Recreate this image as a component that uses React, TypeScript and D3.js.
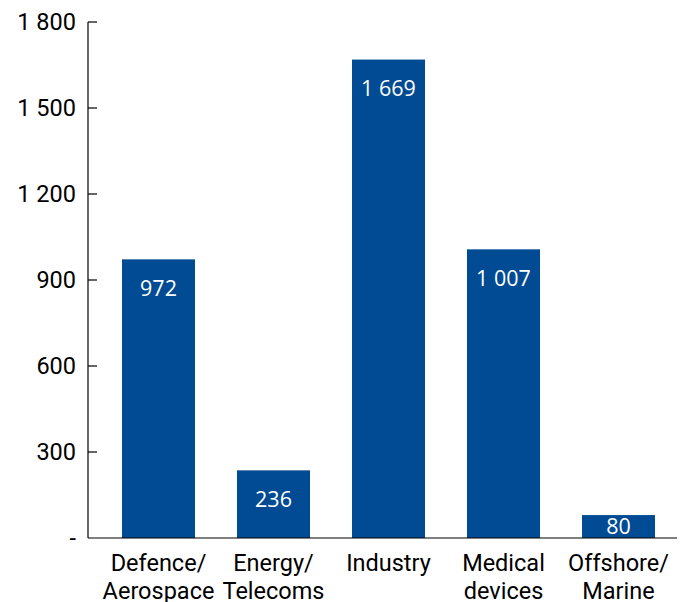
import React from "react";
import * as d3 from "d3";

const categories: string[][] = [
  ["Defence/", "Aerospace"],
  ["Energy/", "Telecoms"],
  ["Industry"],
  ["Medical", "devices"],
  ["Offshore/", "Marine"],
];
const values: number[] = [972, 236, 1669, 1007, 80];
const yTicks: number[] = [0, 300, 600, 900, 1200, 1500, 1800];

const W = 686;
const H = 602;
const BLUE = "#004B93";

const fmt = (v: number) => {
  if (v === 0) return "-";
  const s = String(v);
  return s.replace(/\B(?=(\d{3})+(?!\d))/g, "\u00a0");
};

export default function App() {
  const x = d3
    .scaleBand<number>()
    .domain(values.map((_, i) => i))
    .range([101, 676])
    .paddingInner(0.365)
    .paddingOuter(0.1825);
  const y = d3.scaleLinear().domain([0, 1800]).range([538, 22]);
  const axisX = 88;

  return (
    <svg
      width={W}
      height={H}
      style={{ position: "fixed", left: 0, top: 0, background: "#fff" }}
    >
      {values.map((v, i) => {
        const x0 = x(i)!;
        const top = y(v);
        const h = y(0) - top;
        const ly = Math.min(top + 29, top + h / 2);
        return (
          <g key={i}>
            <rect x={x0} y={top} width={x.bandwidth()} height={h} fill={BLUE} />
            <text
              x={x0 + x.bandwidth() / 2}
              y={ly}
              dy="0.36em"
              textAnchor="middle"
              fill="#fff"
              fontFamily="'Open Sans', sans-serif"
              fontSize={21.5}
            >
              {fmt(v)}
            </text>
          </g>
        );
      })}
      <line x1={axisX} x2={axisX} y1={y(1800)} y2={y(0)} stroke="#000" strokeWidth={1.2} />
      <line x1={axisX} x2={677} y1={y(0)} y2={y(0)} stroke="#000" strokeWidth={1.2} />
      {yTicks.map((t) => (
        <g key={t}>
          {t !== 0 && (
            <line x1={axisX} x2={axisX + 9} y1={y(t)} y2={y(t)} stroke="#000" strokeWidth={1.2} />
          )}
          <text
            x={76}
            y={y(t)}
            dy="0.36em"
            textAnchor="end"
            fill="#000"
            fontFamily="Roboto, sans-serif"
            fontSize={23.5}
          >
            {fmt(t)}
          </text>
        </g>
      ))}
      {categories.map((lines, i) => (
        <text
          key={i}
          x={x(i)! + x.bandwidth() / 2}
          textAnchor="middle"
          fill="#000"
          fontFamily="Roboto, sans-serif"
          fontSize={23.5}
        >
          {lines.map((l, j) => (
            <tspan key={j} x={x(i)! + x.bandwidth() / 2} y={571 + j * 28}>
              {l}
            </tspan>
          ))}
        </text>
      ))}
    </svg>
  );
}
